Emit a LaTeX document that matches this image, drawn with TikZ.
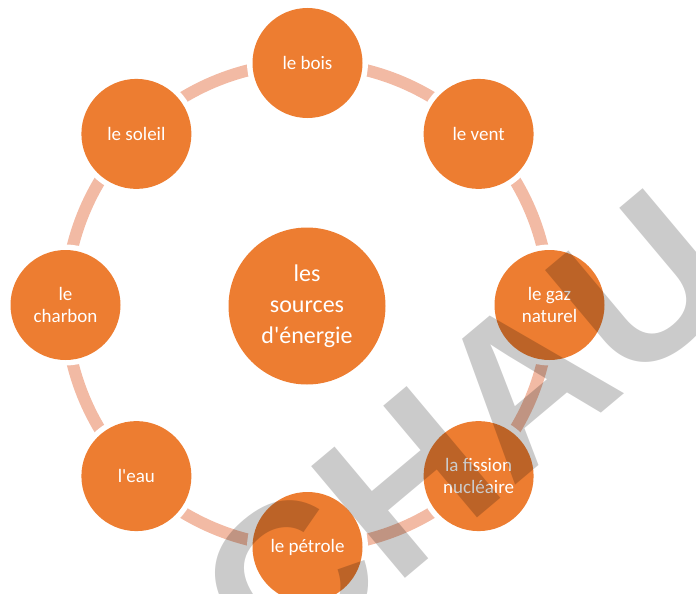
\documentclass[tikz,border=0pt]{standalone}
\usepackage{fontspec}
\setmainfont{Carlito}[Ligatures=TeXOff]
\newfontfamily\wmfont{Liberation Sans}
\definecolor{orng}{RGB}{237,125,49}
\definecolor{ringc}{RGB}{242,186,164}
\definecolor{wmgray}{RGB}{203,203,203}
\begin{document}
\begin{tikzpicture}[x=1pt,y=-1pt,
  src/.style={circle,fill=orng,text=white,minimum size=110pt,inner sep=0pt,
    align=center,font=\fontsize{19}{21.5}\selectfont,
    preaction={draw=white,line width=11pt}},
  hub/.style={circle,fill=orng,text=white,minimum size=157pt,inner sep=0pt,
    align=center,font=\fontsize{24}{31}\selectfont},
  ringline/.style={draw=ringc,line width=12pt},
  watermark/.style={text=wmgray,font=\wmfont\bfseries\fontsize{212}{212}\selectfont,
    rotate=40,inner sep=0pt,anchor=center}]
\useasboundingbox (0,0) rectangle (696,594);
\coordinate (c) at (307.5,305);
\draw[ringline] (c) circle[radius=242];
\node[hub] (hub) at (307,306) {les\\sources\\d'énergie};
\node[src] (bois) at (307.5,63) {le bois};
\node[src] (vent) at (478.6,133.9) {le vent};
\node[src] (gaz) at (549.5,305) {le gaz\\naturel};
\node[src] (fission) at (478.6,476.1) {la fission\\nucléaire};
\node[src] (petrole) at (307.5,547) {le pétrole};
\node[src] (eau) at (136.4,476.1) {l'eau};
\node[src] (charbon) at (65.5,305) {le\\charbon};
\node[src] (soleil) at (136.4,133.9) {le soleil};
\begin{scope}[blend mode=multiply]
\node[watermark] (wm) at (465,433) {CHAU};
\end{scope}
\end{tikzpicture}
\end{document}
